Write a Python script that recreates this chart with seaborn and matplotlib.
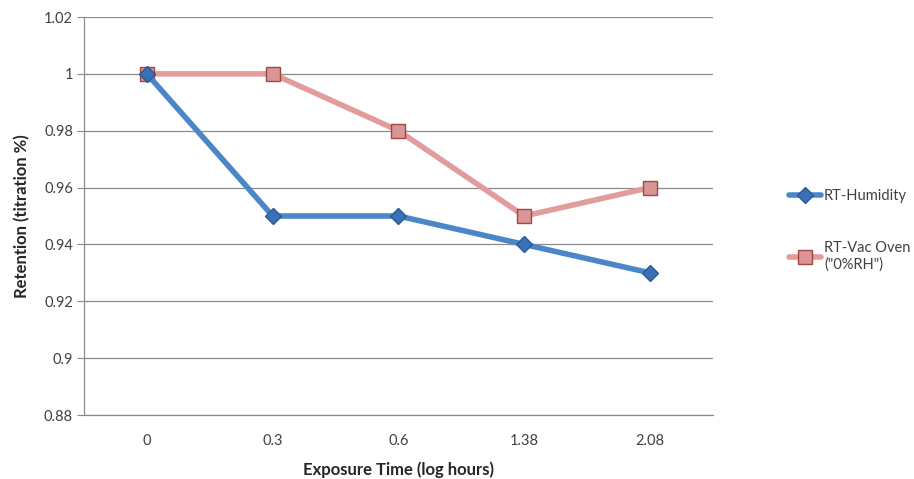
import matplotlib
matplotlib.use("Agg")
import matplotlib.pyplot as plt
import seaborn as sns
import pandas as pd
import numpy as np

categories = ["0", "0.3", "0.6", "1.38", "2.08"]
rt_humidity = [1.00, 0.95, 0.95, 0.94, 0.93]
rt_vac_oven = [1.00, 1.00, 0.98, 0.95, 0.96]
series_names = ["RT-Humidity", "RT-Vac Oven\n(\"0%RH\")"]
y_ticks = [0.88, 0.9, 0.92, 0.94, 0.96, 0.98, 1.0, 1.02]
y_tick_labels = ["0.88", "0.9", "0.92", "0.94", "0.96", "0.98", "1", "1.02"]

sns.set_style("white")
plt.rcParams["font.family"] = ["Lato", "DejaVu Sans"]

df = pd.DataFrame({
    "x": categories * 2,
    "y": rt_humidity + rt_vac_oven,
    "series": [series_names[0]] * 5 + [series_names[1]] * 5,
})

fig = plt.figure(figsize=(9.14, 4.79), dpi=100)
ax = fig.add_axes([0.0919, 0.1336, 0.6881, 0.8309])

colors = {series_names[0]: "#4A86C8", series_names[1]: "#E29C9B"}
sns.lineplot(data=df[df.series == series_names[1]], x="x", y="y", ax=ax,
             color=colors[series_names[1]], lw=4, marker="s", markersize=10,
             markerfacecolor="#D99694", markeredgecolor="#A04745", markeredgewidth=1,
             label=series_names[1], zorder=3, sort=False)
sns.lineplot(data=df[df.series == series_names[0]], x="x", y="y", ax=ax,
             color=colors[series_names[0]], lw=4, marker="D", markersize=8,
             markerfacecolor="#3A70B5", markeredgecolor="#2C5A96", markeredgewidth=1,
             label=series_names[0], zorder=4, sort=False)

ax.set_xlim(-0.5, 4.5)
ax.set_ylim(0.88, 1.02)
ax.set_yticks(y_ticks)
ax.set_yticklabels(y_tick_labels, fontsize=10.5, color="#404040")
ax.set_xticks(range(len(categories)))
ax.set_xticklabels(categories, fontsize=10.5, color="#404040")
ax.set_xticks(np.arange(-0.5, 5.0, 1.0), minor=True)
ax.tick_params(axis="x", which="major", length=0, pad=14)
ax.tick_params(axis="x", which="minor", length=5, color="#888888", direction="out")
ax.tick_params(axis="y", which="major", length=5, color="#888888", direction="out", pad=3, left=True)
ax.grid(axis="y", color="#8C8C8C", lw=0.9)
ax.set_axisbelow(True)
for s in ["top", "right"]:
    ax.spines[s].set_visible(False)
for s in ["left", "bottom"]:
    ax.spines[s].set_color("#8C8C8C")
    ax.spines[s].set_linewidth(0.9)

ax.set_xlabel("Exposure Time (log hours)", fontsize=12, fontweight="bold", labelpad=9)
ax.set_ylabel("Retention (titration %)", fontsize=12, fontweight="bold", labelpad=10)

handles, labels = ax.get_legend_handles_labels()
order = [labels.index(series_names[0]), labels.index(series_names[1])]
leg = ax.legend([handles[i] for i in order], [labels[i] for i in order],
                loc="upper left", bbox_to_anchor=(1.10, 0.6), frameon=False,
                fontsize=10.5, labelspacing=2.6, handlelength=2.2, handletextpad=0.2)
for t in leg.get_texts():
    t.set_color("#404040")

fig.savefig("out.png", dpi=100)
